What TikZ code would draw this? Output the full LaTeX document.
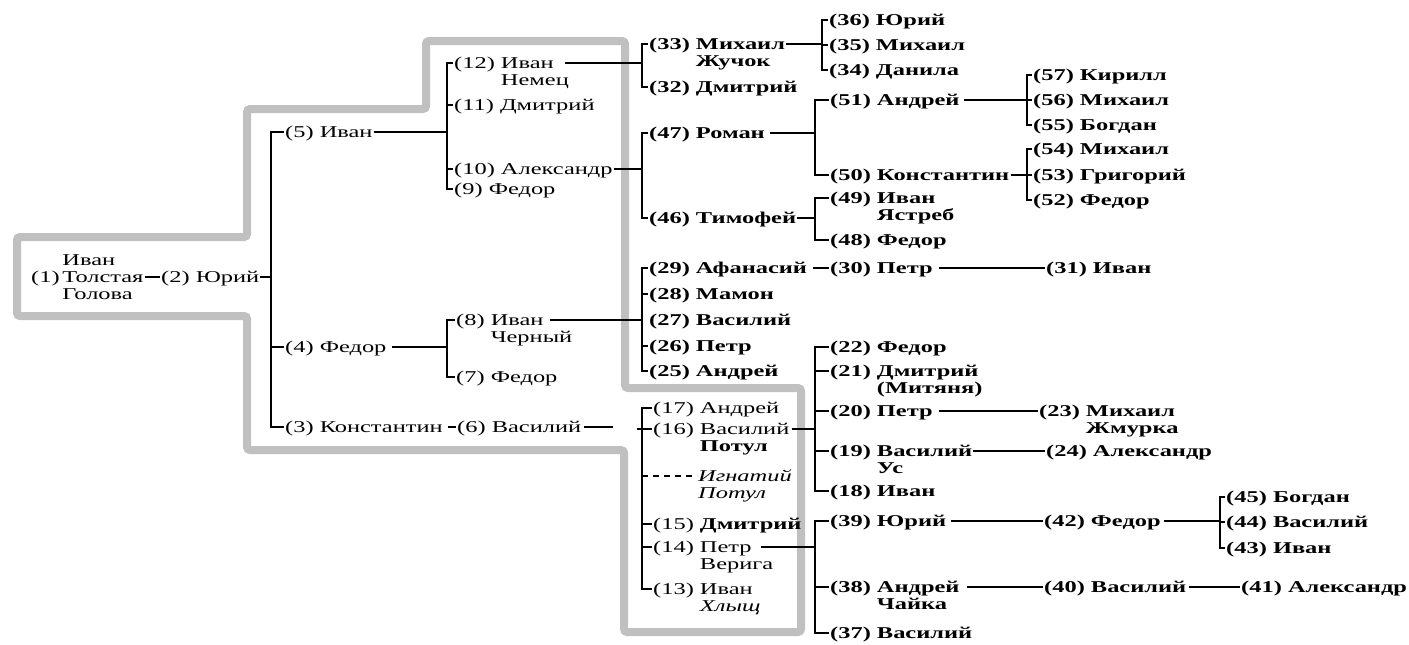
\documentclass[tikz,border=0pt]{standalone}
\usepackage{fontspec}
\setmainfont{Liberation Serif}[FakeStretch=1.48]
\definecolor{band}{RGB}{192,192,192}
\newcommand\lowr[1]{\makebox[0pt][l]{\raisebox{-17pt}[0pt][0pt]{#1}}}
\newcommand\upr[1]{\makebox[0pt][l]{\raisebox{17pt}[0pt][0pt]{#1}}}
\newcommand\person[5]{\node[#2,anchor=base west] (#1) at (#3,#4+5.5) {#5};
 \coordinate (#1w) at ([yshift=5.5pt]#1.base west);
 \coordinate (#1e) at ([yshift=5.5pt]#1.base east);}
\begin{document}
\begin{tikzpicture}[x=1pt,y=-1pt,
  r/.style={inner sep=0pt,inner xsep=1pt,font=\fontsize{16.5}{17}\selectfont},
  b/.style={r,font=\fontsize{16.5}{17}\selectfont\bfseries},
  it/.style={r,font=\fontsize{16.5}{17}\selectfont\itshape},
  ln/.style={line width=1.3pt},
  bandline/.style={draw=band,line width=8pt,rounded corners=3pt}]
\useasboundingbox (0,0) rectangle (1409,645);
% grey outline
\draw[bandline] (17,237) -- (247,237) -- (247,109) -- (426,109) -- (426,41) -- (625,41)
  -- (625,388) -- (801,388) -- (801,632) -- (624,632) -- (624,450) -- (247,450)
  -- (247,316) -- (17,316) -- cycle;
% bracket columns
\coordinate (b2) at (271,0);
\coordinate (b5) at (447,0);
\coordinate (b33) at (642,0);
\coordinate (b36) at (822,0);
\coordinate (b51) at (815,0);
\coordinate (b57) at (1027,0);
\coordinate (b13) at (642,0);
\coordinate (b45) at (1220,0);
\coordinate (c6) at (613,0);
% people: left part
\person{n1}{r}{30}{277}{(1)\,\upr{Иван}\lowr{Голова}Толстая}
\person{n2}{r}{160}{277}{(2) Юрий}
\person{n5}{r}{284}{132}{(5) Иван}
\person{n4}{r}{284}{347}{(4) Федор}
\person{n3}{r}{284}{427}{(3) Константин}
\person{n6}{r}{456}{427}{(6) Василий}
\person{n12}{r}{453}{63}{(12) \lowr{Немец}Иван}
\person{n11}{r}{453}{105}{(11) Дмитрий}
\person{n10}{r}{453}{169}{(10) Александр}
\person{n9}{r}{453}{189}{(9) Федор}
\person{n8}{r}{455}{320}{(8) \lowr{Черный}Иван}
\person{n7}{r}{455}{377}{(7) Федор}
% lower box
\person{n17}{r}{652}{408}{(17) Андрей}
\person{n16}{r}{652}{429}{(16) \lowr{\textbf{Потул}}Василий}
\person{nIg}{it}{697}{476}{\lowr{Потул}Игнатий}
\person{n15}{r}{652}{524}{(15) \textbf{Дмитрий}}
\person{n14}{r}{652}{547}{(14) \lowr{Верига}Петр}
\person{n13}{r}{652}{589}{(13) \lowr{\textit{Хлыщ}}Иван}
% right part
\person{n33}{b}{648}{44}{(33) \lowr{Жучок}Михаил}
\person{n32}{b}{648}{87}{(32) Дмитрий}
\person{n36}{b}{828}{20}{(36) Юрий}
\person{n35}{b}{828}{45}{(35) Михаил}
\person{n34}{b}{828}{70}{(34) Данила}
\person{n47}{b}{648}{133}{(47) Роман}
\person{n46}{b}{648}{218}{(46) Тимофей}
\person{n51}{b}{829}{100}{(51) Андрей}
\person{n50}{b}{829}{175}{(50) Константин}
\person{n57}{b}{1032}{75}{(57) Кирилл}
\person{n56}{b}{1032}{100}{(56) Михаил}
\person{n55}{b}{1032}{125}{(55) Богдан}
\person{n54}{b}{1032}{149}{(54) Михаил}
\person{n53}{b}{1032}{175}{(53) Григорий}
\person{n52}{b}{1032}{200}{(52) Федор}
\person{n49}{b}{829}{198}{(49) \lowr{Ястреб}Иван}
\person{n48}{b}{829}{240}{(48) Федор}
\person{n29}{b}{648}{268}{(29) Афанасий}
\person{n28}{b}{648}{294}{(28) Мамон}
\person{n27}{b}{648}{320}{(27) Василий}
\person{n26}{b}{648}{346}{(26) Петр}
\person{n25}{b}{648}{371}{(25) Андрей}
\person{n30}{b}{829}{268}{(30) Петр}
\person{n31}{b}{1045}{268}{(31) Иван}
\person{n22}{b}{829}{347}{(22) Федор}
\person{n21}{b}{829}{371}{(21) \lowr{(Митяня)}Дмитрий}
\person{n20}{b}{829}{411}{(20) Петр}
\person{n19}{b}{829}{451}{(19) \lowr{Ус}Василий}
\person{n18}{b}{829}{491}{(18) Иван}
\person{n23}{b}{1038}{411}{(23) \lowr{Жмурка}Михаил}
\person{n24}{b}{1045}{451}{(24) Александр}
\person{n39}{b}{829}{521}{(39) Юрий}
\person{n38}{b}{829}{587}{(38) \lowr{Чайка}Андрей}
\person{n37}{b}{829}{633}{(37) Василий}
\person{n42}{b}{1043}{521}{(42) Федор}
\person{n40}{b}{1043}{587}{(40) Василий}
\person{n41}{b}{1240}{587}{(41) Александр}
\person{n45}{b}{1225}{497}{(45) Богдан}
\person{n44}{b}{1225}{522}{(44) Василий}
\person{n43}{b}{1225}{548}{(43) Иван}
% connectors
\draw[ln] (n1e) -- (n2w);
\draw[ln] (n2e) -- (n2e -| b2);
\draw[ln] (n5w) -- (n5w -| b2) -- (n3w -| b2) -- (n3w);
\draw[ln] (n4w) -- (n4w -| b2);
\draw[ln,shorten <=4pt] (n3e) -- (n6w);
\draw[ln,shorten <=2pt] (n6e) -- (n6e -| c6);
% (5) -> 12..9
\draw[ln] (n5e) -- (n5e -| b5);
\draw[ln] (n12w) -- (n12w -| b5) -- (n9w -| b5) -- (n9w);
\draw[ln] (n11w) -- (n11w -| b5);
\draw[ln] (n10w) -- (n10w -| b5);
% (4) -> 8,7
\draw[ln,shorten <=4pt] (n4e) -- (n4e -| b5);
\draw[ln] (n8w) -- (n8w -| b5) -- (n7w -| b5) -- (n7w);
% (12) -> 33,32
\draw[ln,shorten <=10pt] (n12e) -- (n12e -| b33);
\draw[ln] (n33w) -- (n33w -| b33) -- (n32w -| b33) -- (n32w);
% (33) -> 36..34
\draw[ln] (n33e) -- (n33e -| b36);
\draw[ln] (n36w) -- (n36w -| b36) -- (n34w -| b36) -- (n34w);
\draw[ln] (n35w) -- (n35w -| b36);
% (10) -> 47,46
\draw[ln] (n10e) -- (n10e -| b33);
\draw[ln] (n47w) -- (n47w -| b33) -- (n46w -| b33) -- (n46w);
% (47) -> 51,50
\draw[ln,shorten <=4pt] (n47e) -- (n47e -| b51);
\draw[ln] (n51w) -- (n51w -| b51) -- (n50w -| b51) -- (n50w);
% (51) -> 57..55
\draw[ln,shorten <=3pt] (n51e) -- (n51e -| b57);
\draw[ln] (n57w) -- (n57w -| b57) -- (n55w -| b57) -- (n55w);
\draw[ln] (n56w) -- (n56w -| b57);
% (50) -> 54..52
\draw[ln] (n50e) -- (n50e -| b57);
\draw[ln] (n54w) -- (n54w -| b57) -- (n52w -| b57) -- (n52w);
\draw[ln] (n53w) -- (n53w -| b57);
% (46) -> 49,48
\draw[ln] (n46e) -- (n46e -| b51);
\draw[ln] (n49w) -- (n49w -| b51) -- (n48w -| b51) -- (n48w);
% (8) -> 29..25
\draw[ln,shorten <=5pt] (n8e) -- (n8e -| b33);
\draw[ln] (n29w) -- (n29w -| b33) -- (n25w -| b33) -- (n25w);
\draw[ln] (n28w) -- (n28w -| b33);
\draw[ln] (n26w) -- (n26w -| b33);
% (29) -> (30) -> (31)
\draw[ln,shorten <=5pt] (n29e) -- (n30w);
\draw[ln,shorten <=5pt] (n30e) -- (n31w);
% lower box bracket
\draw[ln] (n17w) -- (n17w -| b13) -- (n13w -| b13) -- (n13w);
\draw[ln] (n16w -| b13) ++(-5,0) -- (n16w);
\draw[ln] (n15w) -- (n15w -| b13);
\draw[ln] (n14w) -- (n14w -| b13);
\draw[ln,dash pattern=on 6pt off 5pt] (nIgw -| b13) -- (nIgw);
% (16) -> 22..18
\draw[ln,shorten <=1pt] (n16e) -- (n16e -| b51);
\draw[ln] (n22w) -- (n22w -| b51) -- (n18w -| b51) -- (n18w);
\draw[ln] (n21w) -- (n21w -| b51);
\draw[ln] (n20w) -- (n20w -| b51);
\draw[ln] (n19w) -- (n19w -| b51);
\draw[ln,shorten <=5pt] (n20e) -- (n23w);
\draw[ln] (n19e) -- (n24w);
% (14) -> 39,38,37
\draw[ln,shorten <=8pt] (n14e) -- (n14e -| b51);
\draw[ln] (n39w) -- (n39w -| b51) -- (n37w -| b51) -- (n37w);
\draw[ln] (n38w) -- (n38w -| b51);
\draw[ln,shorten <=4pt] (n39e) -- (n42w);
\draw[ln,shorten <=6pt] (n38e) -- (n40w);
\draw[ln,shorten <=2pt] (n40e) -- (n41w);
% (42) -> 45..43
\draw[ln,shorten <=2pt] (n42e) -- (n42e -| b45);
\draw[ln] (n45w) -- (n45w -| b45) -- (n43w -| b45) -- (n43w);
\draw[ln] (n44w) -- (n44w -| b45);
\end{tikzpicture}
\end{document}
